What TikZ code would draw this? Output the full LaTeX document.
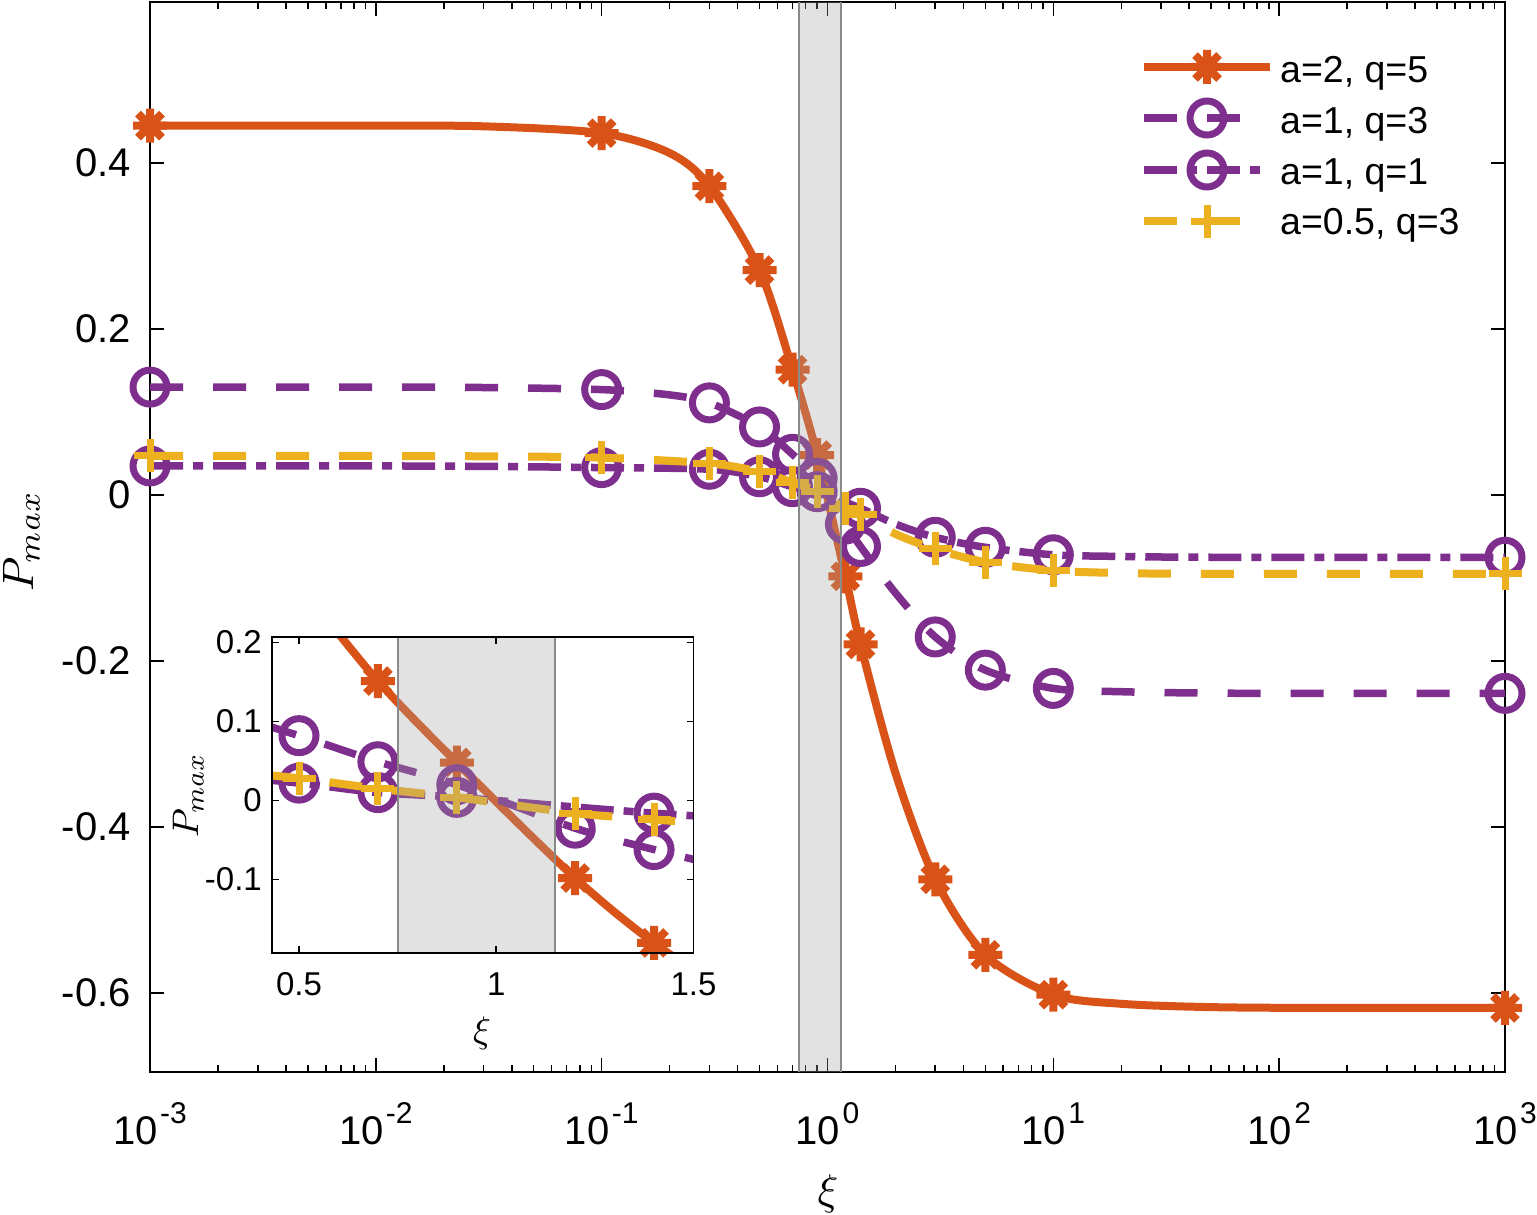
\documentclass[tikz,border=0pt]{standalone}
\usepackage{fontspec}
\setmainfont{Liberation Sans}
\definecolor{cO}{HTML}{D95319}
\definecolor{cP}{HTML}{7E2F8E}
\definecolor{cY}{HTML}{EDB120}
\definecolor{bandfill}{gray}{0.63}
\definecolor{bandedge}{HTML}{8A8A8A}
\newcommand\ftick{\fontsize{40}{48}\selectfont}
\newcommand\fexpo{\fontsize{30}{36}\selectfont}
\newcommand\fleg{\fontsize{37.5}{44}\selectfont}
\newcommand\fins{\fontsize{33}{40}\selectfont}
\tikzset{
  axline/.style={black, line width=1.6pt},
  orangeline/.style={cO, line width=8pt, line join=round},
  dashedline/.style={cP, line width=7.5pt, dash pattern=on 33pt off 30pt, line join=round},
  dashdotline/.style={cP, line width=7.5pt, dash pattern=on 33pt off 10pt on 10pt off 10pt, line join=round},
  yellowline/.style={cY, line width=8pt, dash pattern=on 33pt off 30pt, line join=round},
  ytl/.style={anchor=east, inner sep=0pt, font=\ftick},
  xtl/.style={anchor=base, inner sep=0pt, font=\ftick},
  iytl/.style={anchor=east, inner sep=0pt, font=\fins},
  ixtl/.style={anchor=base, inner sep=0pt, font=\fins},
  legtext/.style={anchor=base west, inner sep=0pt, font=\fleg},
  mainframe/.style={shift={(827.5,495)}, x=225.83pt, y=830pt},
  insetframe/.style={shift={(101.75,800.5)}, x=394.5pt, y=791pt},
  mstar/.pic={\fill[cO] (0,0) circle[radius=10.5];
    \draw[cO, line width=8pt] (-17,0)--(17,0) (0,-17)--(0,17) (-12,-12)--(12,12) (-12,12)--(12,-12);},
  mcirc/.pic={\draw[cP, line width=7pt] (0,0) circle[radius=17];},
  mplus/.pic={\draw[cY, line width=7pt] (-16.5,0)--(16.5,0) (0,-16.5)--(0,16.5);}
}
\begin{document}
\begin{tikzpicture}[x=1pt,y=-1pt]
\useasboundingbox (0,0) rectangle (1537,1215);
\fill[white] (0,0) rectangle (1537,1215);

% ---------- main axes ----------
\draw[axline] (150,2) rectangle (1505,1072);
\foreach \d in {0,...,5}{\foreach \m in {2,...,9}{
  \pgfmathsetmacro\px{150+225.83*(\d+log10(\m))}
  \draw[axline] (\px,1072)--(\px,1065) (\px,2)--(\px,9);}}
\foreach \k in {1,...,5}{
  \draw[axline] ({150+225.83*\k},1072)--({150+225.83*\k},1058) ({150+225.83*\k},2)--({150+225.83*\k},16);}
\foreach \v in {0.4,0.2,0,-0.2,-0.4,-0.6}{
  \draw[axline] (150,{495-830*(\v)})--(164,{495-830*(\v)}) (1505,{495-830*(\v)})--(1491,{495-830*(\v)});
  \node[ytl] at (131,{495-830*(\v)}) {\v};}
\foreach \k/\e in {0/-3,1/-2,2/-1,3/0,4/1,5/2,6/3}{
  \node[xtl] at ({150+225.83*\k},1144) {10\kern2.5pt\raisebox{21pt}{\fexpo\e}};}

% ---------- main series ----------
\begin{scope}[mainframe]
\draw[orangeline] plot[smooth, tension=0.5] coordinates {(-3,0.445) (-2,0.4449) (-1.523,0.4442) (-1,0.436) (-0.699,0.412) (-0.5229,0.372) (-0.301,0.271) (-0.1549,0.151) (-0.0458,0.048) (0.0792,-0.098) (0.1461,-0.180) (0.301,-0.335) (0.4771,-0.463) (0.699,-0.554) (1,-0.602) (1.301,-0.613) (1.699,-0.617) (2.2,-0.618) (3,-0.618)};
\end{scope}
\foreach \a/\b in {-3/0.445,-1/0.436,-0.5229/0.372,-0.301/0.271,-0.1549/0.151,-0.0458/0.048,0.0792/-0.098,0.1461/-0.180,0.4771/-0.463,0.699/-0.554,1/-0.602,3/-0.618}
  \pic at ({827.5+225.83*(\a)},{495-830*(\b)}) {mstar};

\begin{scope}[mainframe]
\draw[dashedline] plot[smooth, tension=0.5] coordinates {(-3,0.130) (-2,0.1299) (-1.523,0.1295) (-1,0.127) (-0.699,0.1206) (-0.5229,0.111) (-0.301,0.082) (-0.1549,0.049) (-0.0458,0.020) (0.0792,-0.035) (0.1461,-0.062) (0.301,-0.118) (0.4771,-0.171) (0.699,-0.211) (1,-0.233) (1.301,-0.237) (1.699,-0.2387) (2.2,-0.239) (3,-0.239)};
\end{scope}
\foreach \a/\b in {-3/0.130,-1/0.127,-0.5229/0.111,-0.301/0.082,-0.1549/0.049,-0.0458/0.020,0.0792/-0.035,0.1461/-0.062,0.4771/-0.171,0.699/-0.211,1/-0.233,3/-0.239}
  \pic at ({827.5+225.83*(\a)},{495-830*(\b)}) {mcirc};

\begin{scope}[mainframe]
\draw[dashdotline] plot[smooth, tension=0.5] coordinates {(-3,0.035) (-2,0.035) (-1.523,0.0345) (-1,0.033) (-0.5229,0.031) (-0.301,0.022) (-0.1549,0.010) (-0.0458,0.004) (0.1461,-0.016) (0.301,-0.035) (0.4771,-0.051) (0.699,-0.063) (1,-0.072) (1.301,-0.074) (1.699,-0.075) (3,-0.075)};
\end{scope}
\foreach \a/\b in {-3/0.035,-1/0.033,-0.5229/0.031,-0.301/0.022,-0.1549/0.010,-0.0458/0.004,0.1461/-0.016,0.4771/-0.051,0.699/-0.063,1/-0.072,3/-0.075}
  \pic at ({827.5+225.83*(\a)},{495-830*(\b)}) {mcirc};

\begin{scope}[mainframe]
\draw[yellowline] plot[smooth, tension=0.5] coordinates {(-3,0.047) (-2,0.047) (-1.523,0.0466) (-1,0.045) (-0.5229,0.038) (-0.301,0.028) (-0.1549,0.015) (-0.0458,0.004) (0.0792,-0.016) (0.1461,-0.024) (0.301,-0.047) (0.4771,-0.065) (0.699,-0.081) (1,-0.091) (1.301,-0.094) (1.699,-0.095) (3,-0.095)};
\end{scope}
\foreach \a/\b in {-3/0.047,-1/0.045,-0.5229/0.038,-0.301/0.028,-0.1549/0.015,-0.0458/0.004,0.0792/-0.016,0.1461/-0.024,0.4771/-0.065,0.699/-0.081,1/-0.091,3/-0.095}
  \pic at ({827.5+225.83*(\a)},{495-830*(\b)}) {mplus};

% band main
\fill[bandfill, opacity=0.3] (799.3,2) rectangle (841.2,1072);
\draw[bandedge, line width=2pt] (799.3,2)--(799.3,1072) (841.2,2)--(841.2,1072);

% ---------- legend ----------
\draw[orangeline] (1144,67)--(1270,67); \pic at (1207,67) {mstar};
\draw[dashedline] (1144,118)--(1270,118); \pic at (1207,118) {mcirc};
\draw[dashdotline] (1144,170)--(1270,170); \pic at (1207,170) {mcirc};
\draw[yellowline] (1144,221)--(1270,221); \pic at (1207,221) {mplus};
\node[legtext] (l1) at (1280,82) {a=2, q=5};
\node[legtext] (l2) at (1280,133) {a=1, q=3};
\node[legtext] (l3) at (1280,184) {a=1, q=1};
\node[legtext] (l4) at (1280,234) {a=0.5, q=3};

% ---------- inset ----------
\fill[white] (272,637) rectangle (693.5,953);
\begin{scope}
\clip (272,637) rectangle (693.5,953);
\begin{scope}[insetframe]
\draw[orangeline] plot[smooth, tension=0.5] coordinates {(0.3,0.372) (0.5,0.271) (0.7,0.151) (0.9,0.048) (1.2,-0.098) (1.4,-0.180) (1.6,-0.244) (2.0,-0.335)};
\end{scope}
\end{scope}
\foreach \a/\b in {0.7/0.151,0.9/0.048,1.2/-0.098,1.4/-0.180}
  \pic at ({101.75+394.5*(\a)},{800.5-791*(\b)}) {mstar};
\begin{scope}
\clip (272,637) rectangle (693.5,953);
\begin{scope}[insetframe]
\draw[dashedline] plot[smooth, tension=0.5] coordinates {(0.1,0.127) (0.3,0.111) (0.5,0.082) (0.7,0.049) (0.9,0.020) (1.2,-0.035) (1.4,-0.062) (1.6,-0.085) (2,-0.118)};
\end{scope}
\end{scope}
\foreach \a/\b in {0.5/0.082,0.7/0.049,0.9/0.020,1.2/-0.035,1.4/-0.062}
  \pic at ({101.75+394.5*(\a)},{800.5-791*(\b)}) {mcirc};
\begin{scope}
\clip (272,637) rectangle (693.5,953);
\begin{scope}[insetframe]
\draw[dashdotline] plot[smooth, tension=0.5] coordinates {(0.1,0.033) (0.3,0.031) (0.5,0.022) (0.7,0.010) (0.9,0.004) (1.4,-0.016) (2,-0.035)};
\end{scope}
\end{scope}
\foreach \a/\b in {0.5/0.022,0.7/0.010,0.9/0.004,1.4/-0.016}
  \pic at ({101.75+394.5*(\a)},{800.5-791*(\b)}) {mcirc};
\begin{scope}
\clip (272,637) rectangle (693.5,953);
\begin{scope}[insetframe]
\draw[yellowline] plot[smooth, tension=0.5] coordinates {(0.1,0.045) (0.3,0.038) (0.5,0.028) (0.7,0.015) (0.9,0.004) (1.2,-0.016) (1.4,-0.024) (2,-0.047)};
\end{scope}
\end{scope}
\foreach \a/\b in {0.5/0.028,0.7/0.015,0.9/0.004,1.2/-0.016,1.4/-0.024}
  \pic at ({101.75+394.5*(\a)},{800.5-791*(\b)}) {mplus};

% band inset
\fill[bandfill, opacity=0.3] (397.6,637) rectangle (555.4,953);
\draw[bandedge, line width=2pt] (397.6,637)--(397.6,953) (555.4,637)--(555.4,953);

% inset axes
\draw[axline] (272,637) rectangle (693.5,953);
\foreach \v in {0.2,0.1,0,-0.1}{
  \draw[axline] (272,{800.5-791*(\v)})--(279,{800.5-791*(\v)}) (693.5,{800.5-791*(\v)})--(686.5,{800.5-791*(\v)});
  \node[iytl] at (262,{800.5-791*(\v)}) {\v};}
\foreach \v in {0.5,1,1.5}{
  \draw[axline] ({101.75+394.5*\v},953)--({101.75+394.5*\v},946) ({101.75+394.5*\v},637)--({101.75+394.5*\v},644);
  \node[ixtl] at ({101.75+394.5*\v},995) {\v};}

% ---------- axis labels ----------
\node[anchor=base, inner sep=0pt] (xlab) at (828,1204) {\scalebox{4.3}{$\xi$}};
\node[anchor=base, rotate=90, inner sep=0pt] (ylab) at (33,541) {\scalebox{4.4}{$P_{max}$}};
\node[anchor=base, inner sep=0pt] (ixlab) at (482,1042) {\scalebox{3.7}{$\xi$}};
\node[anchor=base, rotate=90, inner sep=0pt] (iylab) at (198,795) {\scalebox{3.7}{$P_{max}$}};
\end{tikzpicture}
\end{document}
